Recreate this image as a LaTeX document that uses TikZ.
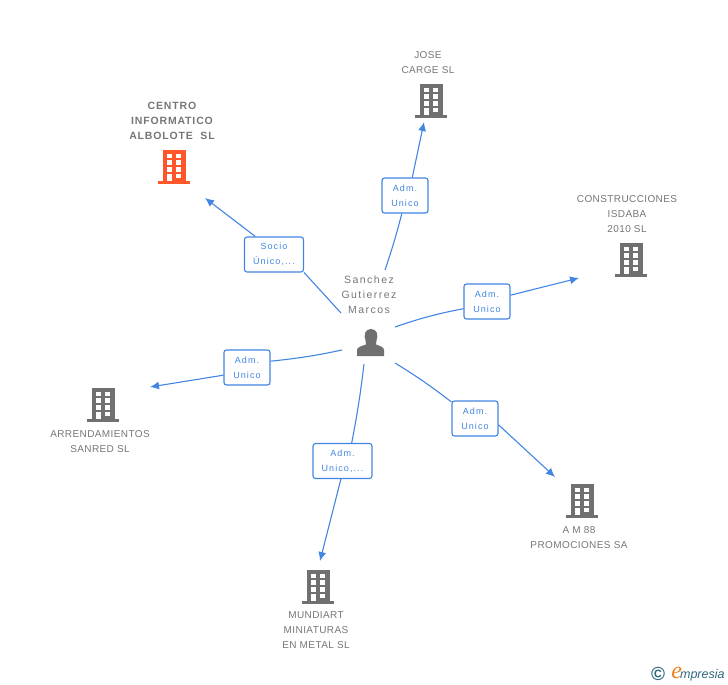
\documentclass[tikz,border=0pt]{standalone}
\usepackage{fontspec}
\setmainfont[LetterSpace=4]{Liberation Sans}
\newfontfamily\logofont{Liberation Sans}
\newfontfamily\logoserif{Liberation Serif}
\usetikzlibrary{arrows.meta}
\definecolor{linkblue}{RGB}{66,133,226}
\definecolor{bldggrey}{RGB}{112,112,112}
\definecolor{bldgred}{RGB}{255,87,42}
\definecolor{labelgrey}{RGB}{118,118,118}
\definecolor{logoteal}{RGB}{45,105,125}
\definecolor{logoorange}{RGB}{240,130,30}
\tikzset{
	bldg/.pic={
		\fill (-11.5,-34) rectangle (11.5,-1);
		\fill (-16,-3) rectangle (16,0);
		\fill[white] (-7.5,-30.5) rectangle (-2.5,-26);
		\fill[white] (2,-30.5) rectangle (7,-26);
		\fill[white] (-7.5,-24) rectangle (-2.5,-19.5);
		\fill[white] (2,-24) rectangle (7,-19.5);
		\fill[white] (-7.5,-17) rectangle (-2.5,-12.5);
		\fill[white] (2,-17) rectangle (7,-12.5);
		\fill[white] (-7.5,-10.5) rectangle (-2.5,-3);
		\fill[white] (2,-10.5) rectangle (7,-6);
	},
	firm/.style={text=labelgrey,align=center,inner sep=0pt,font=\fontsize{10}{15}\selectfont},
	role/.style={draw=linkblue,fill=white,rounded corners=2.5pt,line width=1.1pt,text=linkblue,
		align=center,inner sep=0pt,minimum height=35pt,font=\fontsize{9}{15}\selectfont\addfontfeature{LetterSpace=12}},
	link/.style={draw=linkblue,line width=1.1pt},
	linkarrow/.style={link,-{Latex[length=9pt,width=8pt]}},
}
\begin{document}
\begin{tikzpicture}[x=1pt,y=-1pt]
	\useasboundingbox (0,0) rectangle (728,685);
	% companies
	\pic[bldgred] at (174,184) {bldg};
	\pic[bldggrey] at (431,118) {bldg};
	\pic[bldggrey] at (631,277) {bldg};
	\pic[bldggrey] at (103,422) {bldg};
	\pic[bldggrey] at (582,518) {bldg};
	\pic[bldggrey] at (318,604) {bldg};
	\node (centro) at (172,120.5) [firm,font=\fontsize{10.5}{15}\selectfont\bfseries\addfontfeature{LetterSpace=8}] {CENTRO\\INFORMATICO\\ALBOLOTE\ \ SL};
	\node (jose) at (428,62.5) [firm] {JOSE\\CARGE SL};
	\node (isdaba) at (627,214) [firm] {CONSTRUCCIONES\\ISDABA\\2010 SL};
	\node (sanred) at (100,441.5) [firm] {ARRENDAMIENTOS\\SANRED SL};
	\node (amp) at (579,537.5) [firm] {A M 88\\PROMOCIONES SA};
	\node (mundi) at (316,630) [firm] {MUNDIART\\MINIATURAS\\EN METAL SL};
	% person
	\fill[bldggrey] (357,356) -- (357,350) .. controls (357,347) and (362,346) .. (366,344.5)
		.. controls (366.5,343) and (366,342) .. (365.5,340.5) .. controls (363.5,335) and (365,329) .. (371,329)
		.. controls (377,329) and (378.5,335) .. (376.5,340.5) .. controls (376,342) and (375.5,343) .. (376,344.5)
		.. controls (380,346) and (384,347) .. (384,350) -- (384,356) -- cycle;
	\node (sanchez) at (369,295) [firm,font=\fontsize{10.5}{15}\selectfont\addfontfeature{LetterSpace=14}] {Sanchez\\Gutierrez\\Marcos};
	% free ends
	\coordinate (s1) at (341,313);
	\coordinate (s2) at (385,270);
	\coordinate (s3) at (395,327);
	\coordinate (s4) at (342,350);
	\coordinate (s5) at (364,364);
	\coordinate (s6) at (395,363);
	\coordinate (t1) at (205,198);
	\coordinate (t2) at (424,122);
	\coordinate (t3) at (579,278);
	\coordinate (t4) at (150,387);
	\coordinate (t5) at (320,561);
	\coordinate (t6) at (555,477);
	% roles
	\node (socio) at (274,254.5) [role,minimum width=59pt] {Socio\\Único,...};
	\node (carge) at (405,195.5) [role,minimum width=46pt] {Adm.\\Unico};
	\node (const) at (487,301.5) [role,minimum width=46pt] {Adm.\\Unico};
	\node (arren) at (247,367.5) [role,minimum width=46pt] {Adm.\\Unico};
	\node (mini) at (342.5,461) [role,minimum width=59pt] {Adm.\\Unico,...};
	\node (promo) at (475,418.5) [role,minimum width=46pt] {Adm.\\Unico};
	% links
	\draw [link] (s1) -- (socio.south east);
	\draw [linkarrow] (socio.136) -- (t1);
	\draw [link] (s2) to[bend right=2] (carge.260);
	\draw [linkarrow] (carge.68) -- (t2);
	\draw [link] (s3) to[bend left=4] (const.197);
	\draw [linkarrow] (const.15) -- (t3);
	\draw [link] (s4) to[bend left=3] (arren.15);
	\draw [linkarrow] (arren.198) -- (t4);
	\draw [link] (s5) to[bend left=2] (mini.63);
	\draw [linkarrow] (mini.265) -- (t5);
	\draw [link] (s6) to[bend left=3] (promo.145);
	\draw [linkarrow] (promo.345) -- (t6);
	% logo
	\node (copyr) at (658,674) [text=logoteal,inner sep=0pt,font=\logofont\bfseries\fontsize{19}{19}\selectfont] {©};
	\node (logo) at (698,674) [inner sep=0pt,text=logoteal,font=\logofont\itshape\fontsize{12.5}{12}\selectfont] {{\logoserif\color{logoorange}\fontsize{24}{24}\selectfont e}\kern-2pt mpresia};
\end{tikzpicture}
\end{document}
